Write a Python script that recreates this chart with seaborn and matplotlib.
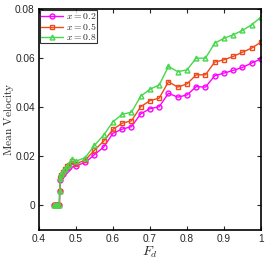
import numpy as np
import pandas as pd
import seaborn as sns
import matplotlib
matplotlib.use('Agg')
import matplotlib.pyplot as plt

# driving force values
Fd = [0.44, 0.445, 0.45, 0.455, 0.456, 0.458, 0.46, 0.465, 0.47, 0.475, 0.48, 0.49,
      0.5, 0.525, 0.55, 0.575, 0.6, 0.625, 0.65, 0.675, 0.7, 0.725, 0.75, 0.775,
      0.8, 0.825, 0.85, 0.875, 0.9, 0.925, 0.95, 0.975, 1.0]

v_02 = [0, 0, 0, 0, 0.006, 0.0105, 0.012, 0.013, 0.014, 0.015, 0.0155, 0.017,
        0.0162, 0.0175, 0.0207, 0.0238, 0.0294, 0.0311, 0.0321, 0.0373, 0.0394, 0.0402,
        0.0457, 0.0441, 0.0450, 0.0484, 0.0482, 0.0528, 0.0539, 0.0550, 0.0562, 0.0580, 0.0597]
v_05 = [0, 0, 0, 0, 0.006, 0.011, 0.0125, 0.0135, 0.015, 0.016, 0.0165, 0.018,
        0.017, 0.0185, 0.0225, 0.0262, 0.031, 0.0335, 0.0345, 0.0402, 0.0427, 0.0437,
        0.0504, 0.0482, 0.0495, 0.0532, 0.0532, 0.0584, 0.0593, 0.0607, 0.0624, 0.0641, 0.0665]
v_08 = [0, 0, 0, 0, 0.006, 0.011, 0.013, 0.014, 0.015, 0.016, 0.017, 0.019,
        0.018, 0.0195, 0.0245, 0.0287, 0.0341, 0.0371, 0.0380, 0.0445, 0.0473, 0.0491,
        0.0566, 0.0545, 0.0552, 0.0600, 0.0600, 0.0661, 0.0681, 0.0695, 0.0713, 0.0736, 0.0767]

labels = ['$x = 0.2$', '$x = 0.5$', '$x = 0.8$']
colors = ['#ff00ff', '#ee4a1a', '#44d84a']
markers = ['o', 's', '^']

df = pd.concat([pd.DataFrame({'Fd': Fd, 'v': v, 'x': lab})
                for v, lab in zip([v_02, v_05, v_08], labels)])

sns.set_style('ticks')
plt.rcParams['mathtext.fontset'] = 'cm'
plt.rcParams['font.family'] = ['Liberation Sans', 'DejaVu Sans']

fig = plt.figure(figsize=(2.69, 2.58), dpi=100)
ax = fig.add_axes([0.145, 0.1085, 0.825, 0.8565])

for lab, c, m in zip(labels, colors, markers):
    sub = df[df['x'] == lab]
    sns.lineplot(data=sub, x='Fd', y='v', ax=ax, color=c, marker=m, markersize=3.5,
                 markerfacecolor='none', markeredgecolor=c, markeredgewidth=1.0,
                 linewidth=1.0, label=lab, estimator=None, sort=False)

ax.set_xlim(0.4, 1.0)
ax.set_ylim(-0.01, 0.08)
ax.set_xticks([0.4, 0.5, 0.6, 0.7, 0.8, 0.9, 1.0])
ax.set_xticklabels(['0.4', '0.5', '0.6', '0.7', '0.8', '0.9', '1'])
ax.set_yticks([0, 0.02, 0.04, 0.06, 0.08])
ax.set_yticklabels(['0', '0.02', '0.04', '0.06', '0.08'])
ax.tick_params(direction='in', top=True, right=True, labelsize=7.3, length=3, width=0.8,
               pad=3)
for s in ax.spines.values():
    s.set_linewidth(1.2)
    s.set_color('black')

ax.set_xlabel('$F_d$', fontsize=10, labelpad=0)
ax.set_ylabel(r'$\mathrm{Mean\ Velocity}$', fontsize=8.2)
ax.yaxis.set_label_coords(-0.104, 0.5)

leg = ax.legend(loc='upper left', fontsize=7, frameon=True, fancybox=False,
                borderpad=0.1, handlelength=2.2, handletextpad=0.3,
                labelspacing=0.0, borderaxespad=0.15)
leg.get_frame().set_edgecolor('black')
leg.get_frame().set_linewidth(0.8)

fig.savefig('out.png', dpi=100)
